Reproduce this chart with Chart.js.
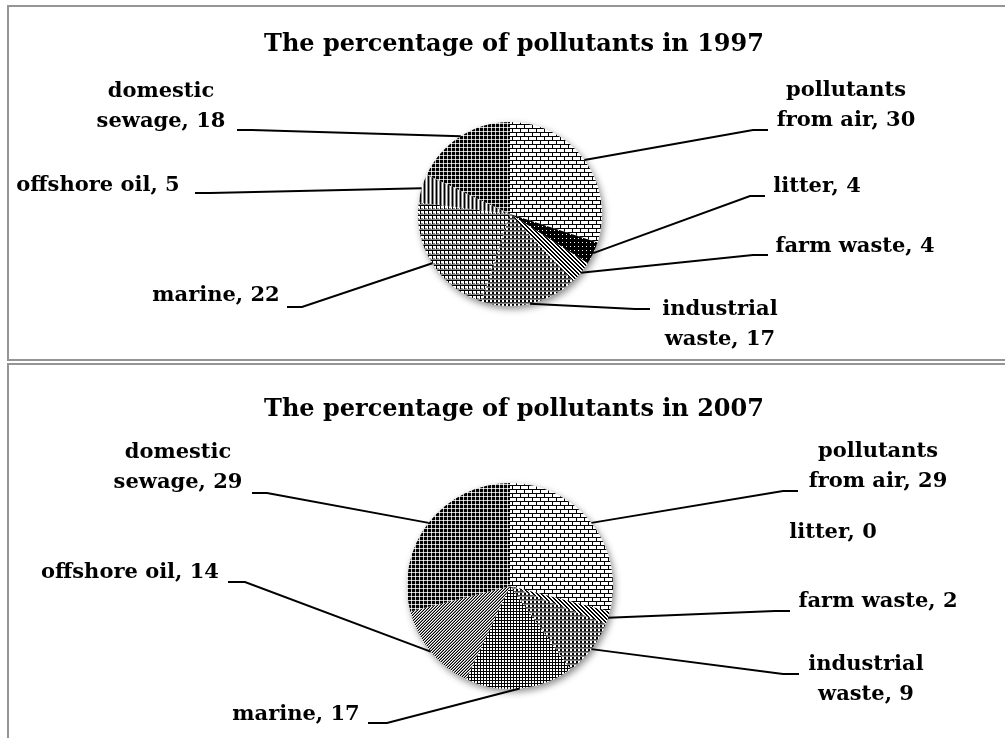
<!DOCTYPE html>
<html>
<head>
<meta charset="utf-8">
<script src="https://cdn.jsdelivr.net/npm/chart.js@4/dist/chart.umd.min.js"></script>
<style>
    body { margin: 0; background: #fff; width: 1005px; height: 738px; overflow: hidden; position: relative; }
    .box { position: absolute; left: 7px; width: 1010px; border-left: 2px solid #959595; border-top: 2px solid #959595; }
    #box1 { top: 5px; height: 352px; border-bottom: 2px solid #959595; }
    #box2 { top: 363px; height: 400px; }
    canvas { position: absolute; left: 0; }
</style>
</head>
<body>
<div class="box" id="box1"></div>
<div class="box" id="box2"></div>
<canvas id="chart1997" width="1005" height="357" style="top:0"></canvas>
<canvas id="chart2007" width="1005" height="373" style="top:365px"></canvas>
<script>
// Data
const categories = ['pollutants from air', 'litter', 'farm waste', 'industrial waste', 'marine', 'offshore oil', 'domestic sewage'];
const values1997 = [30, 4, 4, 17, 22, 5, 18];
const values2007 = [29, 0, 2, 9, 17, 14, 29];
const title1997 = 'The percentage of pollutants in 1997';
const title2007 = 'The percentage of pollutants in 2007';

// Label placement: x, y = centre of first text line, lead = [end x, y, elbow x]
const layout1997 = [
    { x: 846, y: 91, wrap: true, lead: [768, 130, 753] },
    { x: 817, y: 187, lead: [765, 196, 750] },
    { x: 855, y: 247, lead: [768, 255, 753] },
    { x: 720, y: 310, wrap: true, lead: [650, 309, 635] },
    { x: 216, y: 296, lead: [287, 307, 302] },
    { x: 98, y: 186, lead: [195, 193, 210] },
    { x: 161, y: 92, wrap: true, lead: [237, 130, 252] }
];
const layout2007 = [
    { x: 878, y: 87, wrap: true, lead: [798, 126, 783] },
    { x: 833, y: 168, lead: null },
    { x: 878, y: 237, lead: [790, 246, 775] },
    { x: 866, y: 300, wrap: true, lead: [799, 309, 783] },
    { x: 296, y: 350, lead: [368, 358, 387] },
    { x: 130, y: 208, lead: [228, 217, 245] },
    { x: 178, y: 88, wrap: true, lead: [252, 128, 267] }
];

// Black and white fill patterns, one row string per pixel row
const palette = { K: '#000000', g: '#8a8a8a', l: '#c4c4c4', d: '#444444', '.': '#ffffff' };
function makePattern(rows) {
    const c = document.createElement('canvas');
    c.width = rows[0].length;
    c.height = rows.length;
    const cx = c.getContext('2d');
    rows.forEach((row, y) => {
        for (let x = 0; x < row.length; x++) {
            cx.fillStyle = palette[row[x]];
            cx.fillRect(x, y, 1, 1);
        }
    });
    return cx.createPattern(c, 'repeat');
}

const brick = makePattern(['KKKKKKKK', 'K.......', 'K.......', 'K.......', 'KKKKKKKK', '....K...', '....K...', '....K...']);
const dotsOnBlack = makePattern(['KKKK', 'KKKK', 'KK.K', 'KKKK']);
const wideDiag = makePattern(['KK..', '.KK.', '..KK', 'K..K']);
const checker = makePattern(['KK..', 'KK..', 'dddd', 'gggg']);
const plaid = makePattern(['KKKK', 'K...', 'K...', 'Kgg.', 'gggg']);
const smallGrid = makePattern(['KKK', 'K..', 'K..']);
const vertical = makePattern(['Kg.g']);
const fineDiag = makePattern(['.gK', 'gK.', 'K.g']);
const darkPlaid = makePattern(['KKKl', 'KKKl', 'KKKl', 'lll.']);

const fills1997 = [brick, dotsOnBlack, wideDiag, checker, plaid, vertical, darkPlaid];
const fills2007 = [brick, dotsOnBlack, wideDiag, checker, smallGrid, fineDiag, darkPlaid];

// Shadow under the pie, titles, data labels and leader lines
const leaderLabels = {
    id: 'leaderLabels',
    beforeDatasetsDraw(chart) {
        const arc = chart.getDatasetMeta(0).data[0];
        const ctx = chart.ctx;
        ctx.save();
        ctx.shadowColor = 'rgba(0,0,0,0.45)';
        ctx.shadowBlur = 7;
        ctx.shadowOffsetX = 2;
        ctx.shadowOffsetY = 3;
        ctx.fillStyle = '#fff';
        ctx.beginPath();
        ctx.arc(arc.x, arc.y, arc.outerRadius, 0, Math.PI * 2);
        ctx.fill();
        ctx.restore();
    },
    afterDraw(chart, args, opts) {
        const ctx = chart.ctx;
        const meta = chart.getDatasetMeta(0);
        const values = chart.data.datasets[0].data;
        ctx.save();
        ctx.fillStyle = '#000';
        ctx.textAlign = 'center';
        ctx.textBaseline = 'middle';
        ctx.font = 'bold 24px "DejaVu Serif"';
        ctx.fillText(opts.title, opts.titleX, opts.titleY);

        ctx.font = 'bold 21px "DejaVu Serif"';
        ctx.strokeStyle = '#000';
        ctx.lineWidth = 2;
        chart.data.labels.forEach((name, i) => {
            const L = opts.layout[i];
            const text = name + ', ' + values[i];
            const cut = text.indexOf(' ');
            const lines = L.wrap ? [text.slice(0, cut), text.slice(cut + 1)] : [text];
            lines.forEach((t, j) => ctx.fillText(t, L.x, L.y + j * 30));

            if (L.lead) {
                const a = meta.data[i];
                const mid = (a.startAngle + a.endAngle) / 2;
                const px = a.x + a.outerRadius * Math.cos(mid);
                const py = a.y + a.outerRadius * Math.sin(mid);
                ctx.beginPath();
                ctx.moveTo(L.lead[0], L.lead[1]);
                ctx.lineTo(L.lead[2], L.lead[1]);
                ctx.lineTo(px, py);
                ctx.stroke();
            }
        });
        ctx.restore();
    }
};

function makePie(id, values, fills, title, layout, padding) {
    return new Chart(document.getElementById(id), {
        type: 'pie',
        data: {
            labels: categories,
            datasets: [{
                data: values,
                backgroundColor: fills,
                borderWidth: 0
            }]
        },
        options: {
            responsive: false,
            animation: false,
            layout: { padding: padding },
            plugins: {
                legend: { display: false },
                tooltip: { enabled: false },
                leaderLabels: { title: title, titleX: 514, titleY: 45, layout: layout }
            }
        },
        plugins: [leaderLabels]
    });
}

makePie('chart1997', values1997, fills1997, title1997, layout1997,
    { left: 418, right: 403, top: 122, bottom: 51 });
makePie('chart2007', values2007, fills2007, title2007, layout2007,
    { left: 407, right: 392, top: 118, bottom: 49 });
</script>
</body>
</html>
